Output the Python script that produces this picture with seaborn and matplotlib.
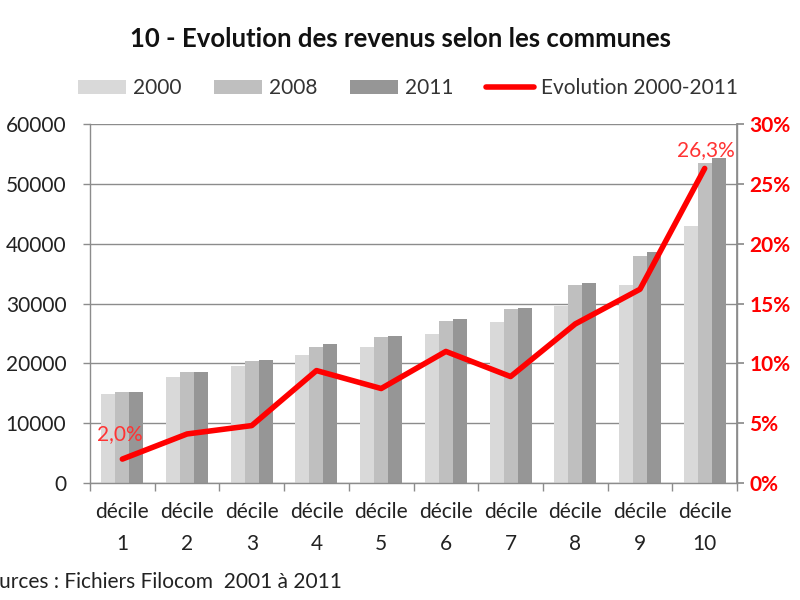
import numpy as np
import pandas as pd
import matplotlib
matplotlib.use("Agg")
import matplotlib.pyplot as plt
from matplotlib.ticker import FixedLocator, FuncFormatter
from matplotlib.lines import Line2D
from matplotlib.patches import Patch
import seaborn as sns

deciles = ["décile\n1", "décile\n2", "décile\n3", "décile\n4", "décile\n5",
           "décile\n6", "décile\n7", "décile\n8", "décile\n9", "décile\n10"]
rev_2000 = [14850, 17750, 19550, 21350, 22800, 24850, 26850, 29550, 33100, 42900]
rev_2008 = [15200, 18550, 20350, 22800, 24350, 27050, 29100, 33050, 37950, 53550]
rev_2011 = [15200, 18550, 20550, 23250, 24550, 27350, 29300, 33450, 38600, 54300]
evolution = [2.0, 4.1, 4.8, 9.4, 7.9, 11.0, 8.9, 13.3, 16.2, 26.3]
years = ["2000", "2008", "2011"]
colors = ["#d9d9d9", "#bfbfbf", "#969696"]

df = pd.DataFrame({
    "Décile": deciles * 3,
    "Année": ["2000"] * 10 + ["2008"] * 10 + ["2011"] * 10,
    "Revenu": rev_2000 + rev_2008 + rev_2011,
})
df_evo = pd.DataFrame({"pos": np.arange(len(deciles)), "Evolution": evolution})

sns.set_theme(style="white")
plt.rcParams["font.family"] = ["Liberation Sans Narrow", "Lato", "DejaVu Sans"]

fig = plt.figure(figsize=(8, 6), dpi=100)
ax = fig.add_axes([0.1125, 0.195, 0.8088, 0.598])

sns.barplot(data=df, x="Décile", y="Revenu", hue="Année", palette=colors,
            width=0.65, ax=ax, legend=False, edgecolor="none", saturation=1)
ax.set_ylim(0, 60000)
ax.set_yticks(range(0, 60001, 10000))
ax.set_xlim(-0.5, 9.5)
ax.set_xlabel("")
ax.set_ylabel("")
ax.yaxis.grid(True, color="#8c8c8c", linewidth=1)
ax.set_axisbelow(True)
ax.tick_params(axis="y", labelsize=15, colors="#222222", length=5, width=1,
               direction="out", left=True, color="#8c8c8c", pad=12)
ax.tick_params(axis="x", labelsize=15, colors="#222222", length=0, pad=14)
for lab in ax.get_xticklabels():
    lab.set_linespacing(1.75)
ax.xaxis.set_minor_locator(FixedLocator(np.arange(-0.5, 10, 1)))
ax.tick_params(axis="x", which="minor", length=6, color="#8c8c8c", bottom=True)
for s in ["left", "bottom", "right"]:
    ax.spines[s].set_color("#8c8c8c")
    ax.spines[s].set_linewidth(1)
ax.spines["top"].set_visible(False)

ax2 = ax.twinx()
sns.lineplot(data=df_evo, x="pos", y="Evolution", color="#ff0000", linewidth=4,
             ax=ax2, legend=False)
ax2.set_ylim(0, 30)
ax2.set_xlim(-0.5, 9.5)
ax2.set_yticks(range(0, 31, 5))
ax2.yaxis.set_major_formatter(FuncFormatter(lambda v, p: f"{int(v)}%"))
ax2.tick_params(axis="y", labelsize=15, colors="#ff0000", length=5,
                color="#8c8c8c", right=True, pad=4)
for lab in ax2.get_yticklabels():
    lab.set_fontweight("bold")
ax2.set_ylabel("")
ax2.set_xlabel("")
for s in ["left", "top", "bottom"]:
    ax2.spines[s].set_visible(False)
ax2.spines["right"].set_color("#8c8c8c")

ax2.annotate(f"{evolution[0]:.1f}%".replace(".", ","), (0, evolution[0]),
             xytext=(-18, 14), textcoords="offset points", ha="left",
             color="#ff3333", fontsize=15)
ax2.annotate(f"{evolution[-1]:.1f}%".replace(".", ","), (9, evolution[-1]),
             xytext=(1, 9), textcoords="offset points", ha="center",
             color="#ff3333", fontsize=15)

fig.text(0.5, 0.935, "10 - Evolution des revenus selon les communes",
         ha="center", va="center", fontsize=18.5, fontweight="bold", color="#111111")

handles = [Patch(facecolor=c, edgecolor="none") for c in colors]
handles.append(Line2D([0], [0], color="#ff0000", linewidth=4))
fig.legend(handles, years + ["Evolution 2000-2011"], loc="center",
           bbox_to_anchor=(0.51, 0.853), ncol=4, frameon=False, fontsize=15,
           handlelength=2.3, handletextpad=0.3, columnspacing=1.6,
           labelcolor="#333333")

fig.text(-0.03, 0.03, "Sources : Fichiers Filocom  2001 à 2011",
         ha="left", va="center", fontsize=15, color="#222222")

fig.savefig("out.png", dpi=100)
